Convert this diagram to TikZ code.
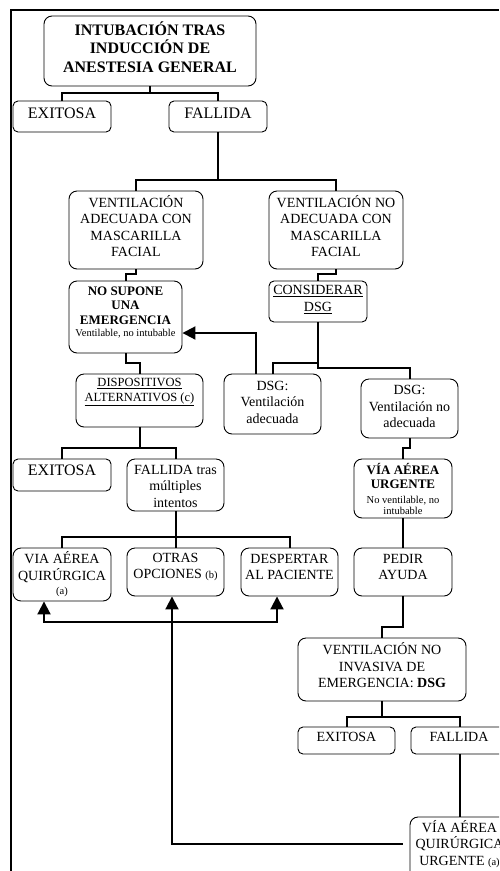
\documentclass[tikz,border=0pt]{standalone}
\usepackage{fontspec}
\setmainfont{Liberation Serif}
\usetikzlibrary{arrows.meta}
\newcommand{\ftxt}{\fontsize{14}{16.5}\selectfont}
\newcommand{\ftit}{\fontsize{16}{18.7}\selectfont\bfseries}
\newcommand{\fgr}{\fontsize{16}{18.7}\selectfont}
\newcommand{\fneg}{\fontsize{13}{14.5}\selectfont\bfseries}
\newcommand{\fsub}{\fontsize{12.5}{15}\selectfont}
\newcommand{\fpq}{\fontsize{10.5}{12}\selectfont\mdseries}
\tikzset{
  caja/.style={draw, rounded corners=8pt, line width=0.9pt, inner sep=0pt},
  cajita/.style={caja, rounded corners=5pt},
  txt/.style={align=center, inner sep=0pt, font=\ftxt},
  enlace/.style={line width=2pt},
  flecha/.style={line width=2pt, -{Triangle[length=13pt,width=13pt]}},
  marco/.style={line width=1.5pt}
}
\begin{document}
\begin{tikzpicture}[x=1pt, y=-1pt]
\useasboundingbox (0,0) rectangle (499,871);
\clip (0,0) rectangle (499,871);
\draw[marco] (11,871) -- (11,10) -- (499,10);
% cajas
\node[caja, minimum width=212pt, minimum height=70pt] (intub) at (150,51) {};
\node[txt, font=\ftit] (intub-t) at (150,47) {INTUBACIÓN TRAS\\INDUCCIÓN DE\\ANESTESIA GENERAL};
\node[cajita, minimum width=98pt, minimum height=31pt] (exi1) at (62,116.5) {};
\node[txt, font=\fgr] (exi1-t) at (62,113) {EXITOSA};
\node[cajita, minimum width=98pt, minimum height=31pt] (fal1) at (218,116.5) {};
\node[txt, font=\fgr] (fal1-t) at (218,113) {FALLIDA};
\node[caja, minimum width=134pt, minimum height=78pt] (vadec) at (136,230) {};
\node[txt] (vadec-t) at (136,226) {VENTILACIÓN\\ADECUADA CON\\MASCARILLA\\FACIAL};
\node[caja, minimum width=134pt, minimum height=78pt] (vnoad) at (336,230) {};
\node[txt] (vnoad-t) at (336,226) {VENTILACIÓN NO\\ADECUADA CON\\MASCARILLA\\FACIAL};
\node[caja, minimum width=113pt, minimum height=72pt] (nosup) at (125.5,317) {};
\node[txt, font=\fneg] (nosup-t) at (125.5,312) {NO SUPONE\\UNA\\EMERGENCIA\\[-2.5pt]{\fpq Ventilable, no intubable}};
\node[cajita, minimum width=98pt, minimum height=41pt] (consid) at (318,301.5) {};
\node[txt] (consid-t) at (318,299.5) {\underline{CONSIDERAR}\\\underline{DSG}};
\node[caja, minimum width=127pt, minimum height=53pt] (dispo) at (139.5,400.5) {};
\node[txt, font=\fsub] (dispo-t) at (139.5,392) {\underline{DISPOSITIVOS}\\\underline{ALTERNATIVOS (c)}};
\node[caja, minimum width=97pt, minimum height=60pt] (dsga) at (272.5,404) {};
\node[txt] (dsga-t) at (272.5,402) {DSG:\\Ventilación\\adecuada};
\node[caja, minimum width=97pt, minimum height=59pt] (dsgn) at (409.5,408.5) {};
\node[txt] (dsgn-t) at (409.5,406.5) {DSG:\\Ventilación no\\adecuada};
\node[cajita, minimum width=98pt, minimum height=32pt] (exi2) at (62,475) {};
\node[txt, font=\fgr] (exi2-t) at (62,470) {EXITOSA};
\node[caja, minimum width=97pt, minimum height=52pt] (falt) at (175.5,485) {};
\node[txt] (falt-t) at (175.5,486) {FALLIDA tras\\múltiples\\intentos};
\node[caja, minimum width=98pt, minimum height=59pt] (urg) at (403,488.5) {};
\node[txt, font=\fneg] (urg-t) at (403,488.5) {VÍA AÉREA\\URGENTE\\{\fpq No ventilable, no}\\[-3.5pt]{\fpq intubable}};
\node[caja, minimum width=98pt, minimum height=53pt] (quir) at (62,574.5) {};
\node[txt] (quir-t) at (62,574.5) {VIA AÉREA\\QUIRÚRGICA\\[-2pt]{\fpq (a)}};
\node[caja, minimum width=97pt, minimum height=48pt] (otras) at (175.5,572) {};
\node[txt] (otras-t) at (175.5,567) {OTRAS\\OPCIONES {\fpq (b)}};
\node[caja, minimum width=97pt, minimum height=48pt] (desp) at (289.5,572) {};
\node[txt] (desp-t) at (289.5,567) {DESPERTAR\\AL PACIENTE};
\node[caja, minimum width=98pt, minimum height=48pt] (pedir) at (403,572) {};
\node[txt] (pedir-t) at (403,567) {PEDIR\\AYUDA};
\node[caja, minimum width=168pt, minimum height=63pt] (vni) at (382,669.5) {};
\node[txt] (vni-t) at (382,665.5) {VENTILACIÓN NO\\INVASIVA DE\\EMERGENCIA: \textbf{DSG}};
\node[cajita, minimum width=97pt, minimum height=27pt] (exi3) at (346.5,740.5) {};
\node[txt] (exi3-t) at (346.5,737) {EXITOSA};
\node[cajita, minimum width=98pt, minimum height=27pt] (fal3) at (460,740.5) {};
\node[txt] (fal3-t) at (459,737) {FALLIDA};
\node[caja, minimum width=100pt, minimum height=62pt] (viaq) at (460,848) {};
\node[txt] (viaq-t) at (459.5,844) {VÍA AÉREA\\QUIRÚRGICA\\URGENTE {\fpq (a)}};
% enlaces
\draw[enlace] (intub.south) -- ++(0,7) -| (exi1.north);
\draw[enlace] (intub.south) -- ++(0,7) -| (fal1.north);
\draw[enlace] (fal1.south) -- ++(0,48) -| (vadec.north);
\draw[enlace] (fal1.south) -- ++(0,48) -| (vnoad.north);
\draw[enlace] (vadec.south) -- ++(0,5) -| (nosup.north);
\draw[enlace] (vnoad.south) -- ++(0,5) -| (consid.north);
\draw[enlace] (nosup.south) -- ++(0,10) -| (dispo.north);
\draw[enlace] (consid.south) -- ++(0,41) -| (dsga.north);
\draw[enlace] (consid.south) -- ++(0,46) -| (dsgn.north);
\draw[flecha] ([xshift=-16.5pt]dsga.north) |- ([yshift=-16pt]nosup.east);
\draw[enlace] (dispo.south) -- ++(0,21) -| (exi2.north);
\draw[enlace] (dispo.south) -- ++(0,21) -| (falt.north);
\draw[enlace] (dsgn.south) -- ++(0,10) -| (urg.north);
\draw[enlace] (falt.south) -- ++(0,26) -| (quir.north);
\draw[enlace] (falt.south) -- ++(0,26) -| (otras.north);
\draw[enlace] (falt.south) -- ++(0,26) -| (desp.north);
\draw[enlace] (urg.south) -- (pedir.north);
\draw[enlace] (pedir.south) -- ++(0,31) -| (vni.north);
\draw[enlace] (vni.south) -- ++(0,16) -| (exi3.north);
\draw[enlace] (vni.south) -- ++(0,16) -| (fal3.north);
\draw[enlace] (fal3.south) -- (viaq.north);
% flechas de vuelta
\coordinate (cruce) at (172,622);
\draw[flecha] (cruce) -| ([xshift=-18pt]quir.south);
\draw[flecha] (cruce) -| ([xshift=-12.5pt]desp.south);
\draw[flecha, shorten <=7pt] ([yshift=4pt]viaq.west) -| ([xshift=-3.5pt]otras.south);
\end{tikzpicture}
\end{document}
